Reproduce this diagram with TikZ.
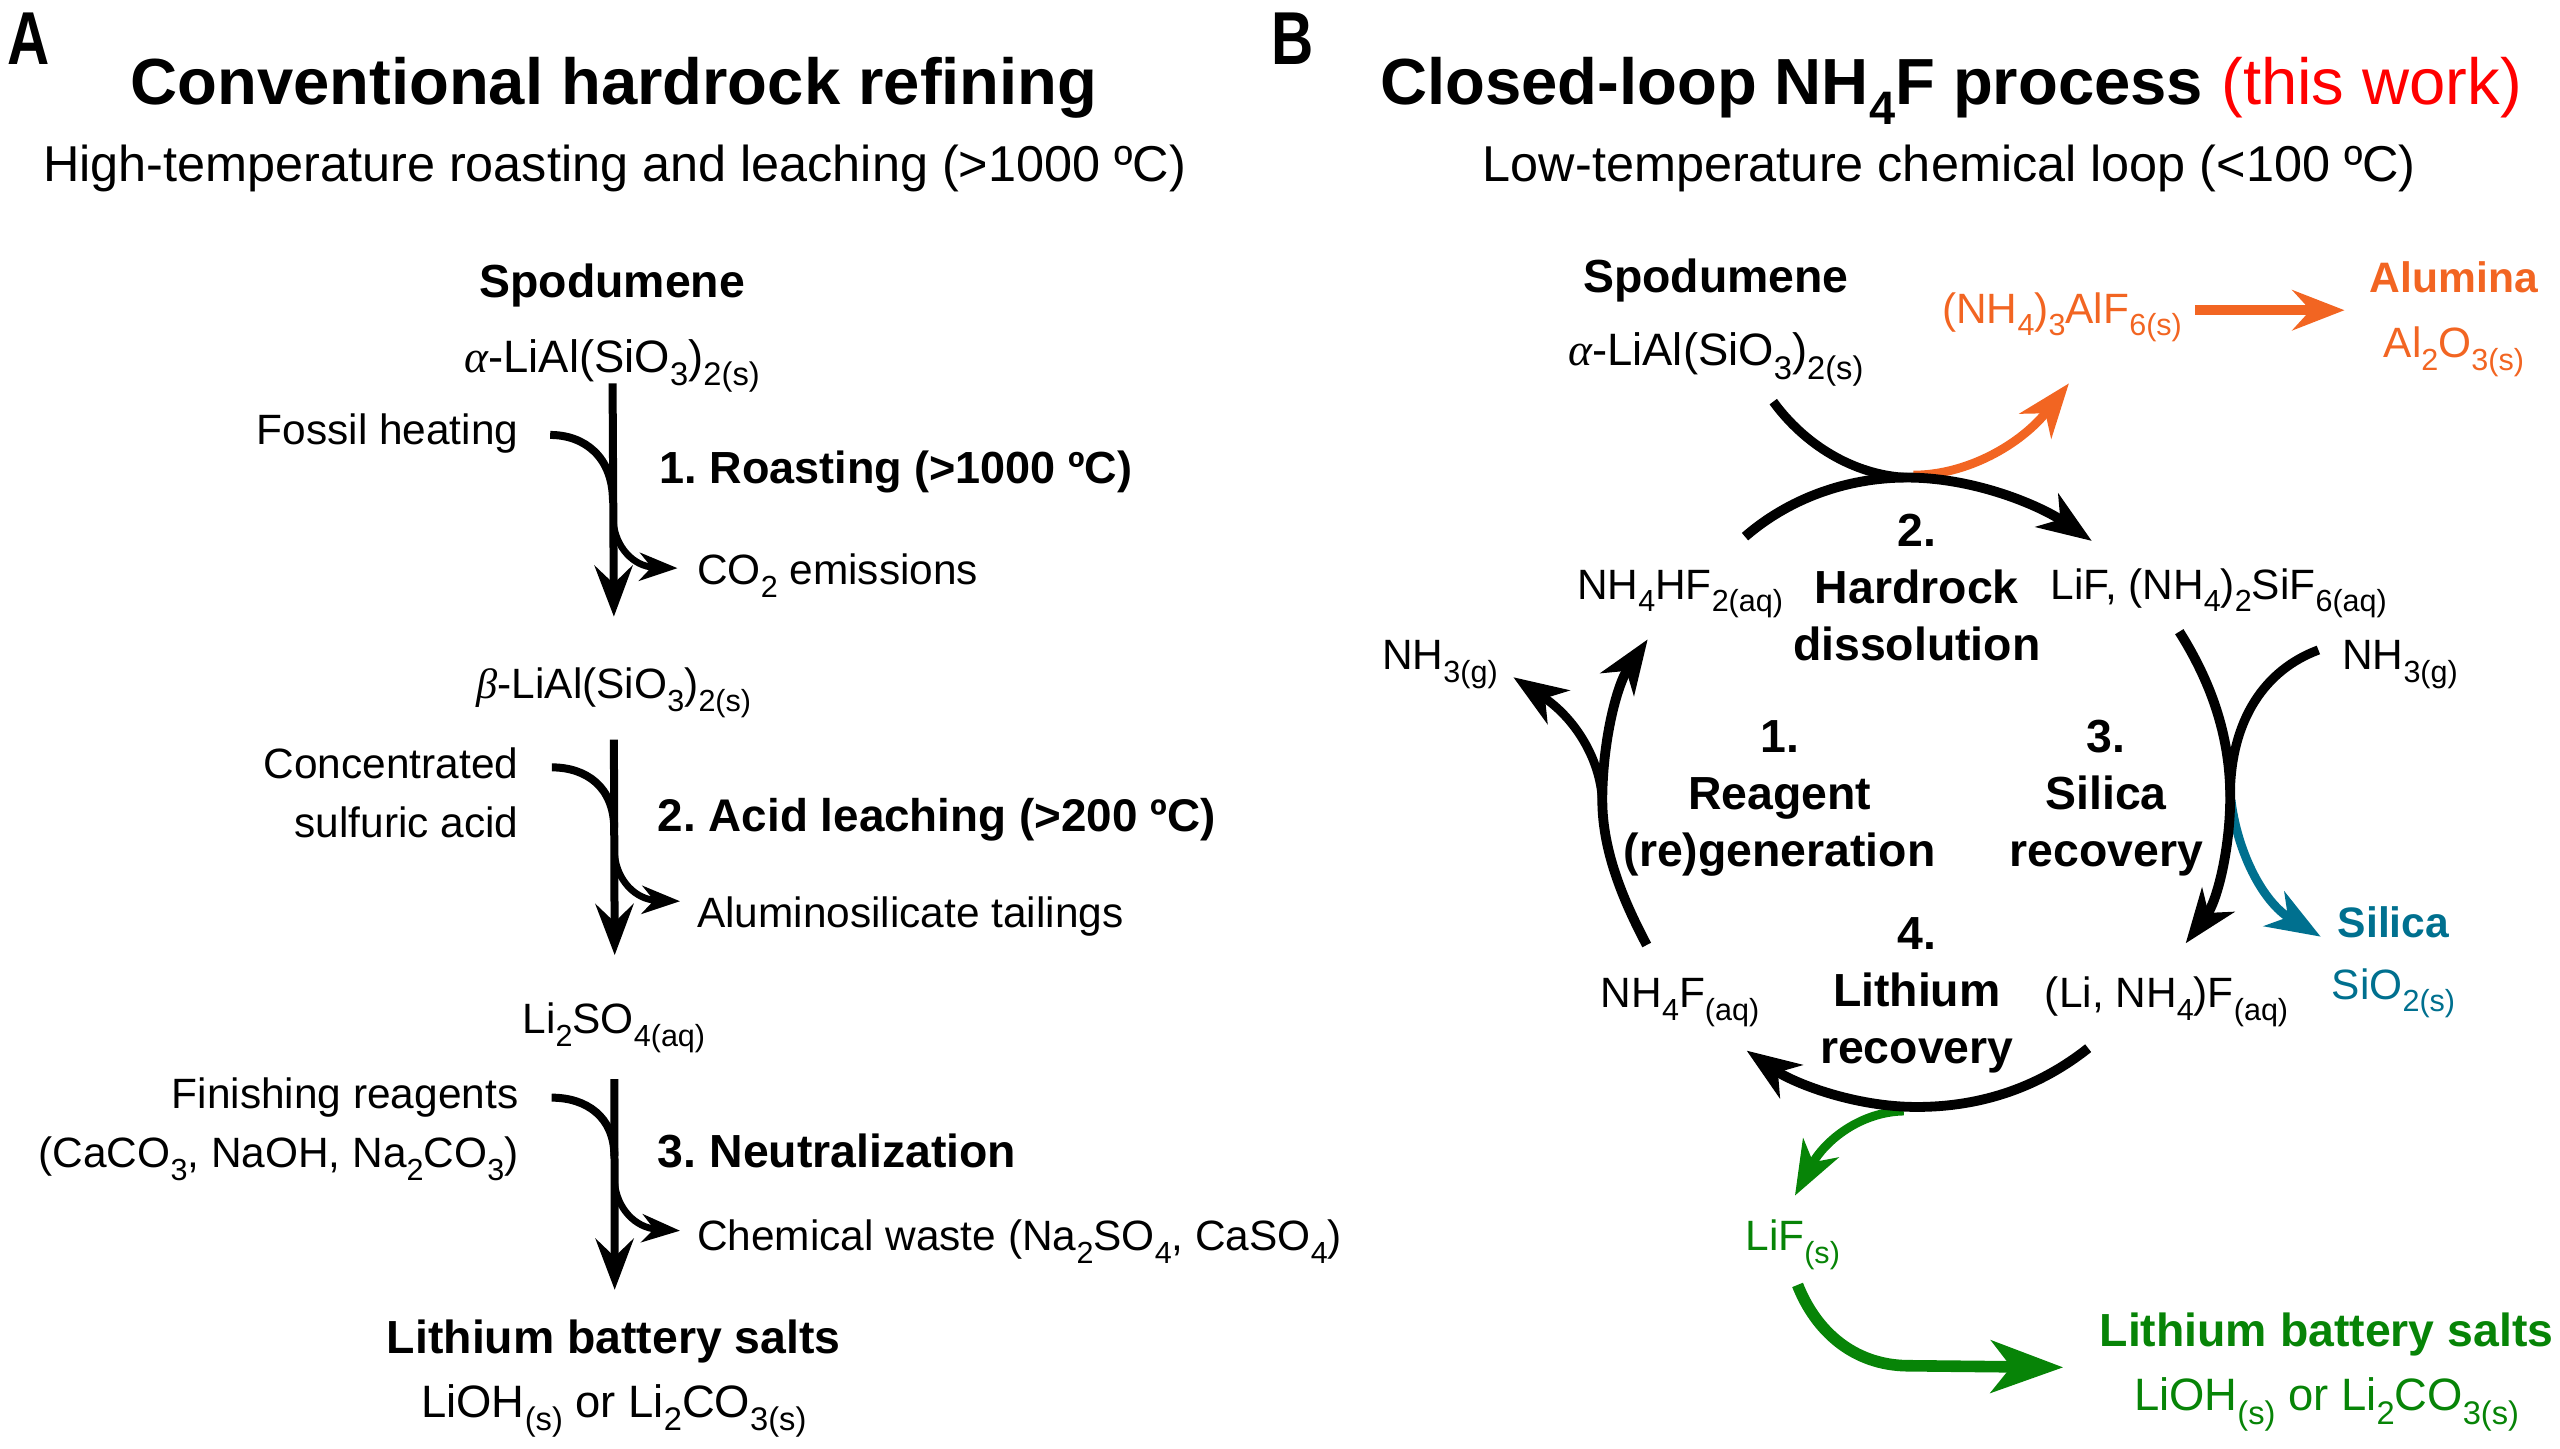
\documentclass[tikz,border=0pt]{standalone}
\usepackage{fontspec}
\setmainfont{Liberation Sans}
\newfontfamily\grk{Liberation Serif}
\usetikzlibrary{arrows.meta}
\definecolor{orng}{HTML}{F26522}
\definecolor{teal2}{HTML}{00708F}
\definecolor{grn}{HTML}{078407}
\newcommand\chs[1]{\raisebox{-0.3em}{\scalebox{0.72}{#1}}}
\newcommand\al{{\grk\itshape α}}
\newcommand\be{{\grk\itshape β}}
\frenchspacing
\tikzset{
  inner sep=0pt, outer sep=0pt,
  paneltag/.style={font=\bfseries\fontsize{37.5}{38}\selectfont, anchor=base},
  ttl/.style={font=\bfseries\fontsize{32.6}{36}\selectfont, anchor=base},
  sub/.style={font=\fontsize{25.2}{30}\selectfont, anchor=base},
  lab/.style={font=\fontsize{21.2}{29}\selectfont, anchor=base},
  labbig/.style={font=\fontsize{22.7}{29}\selectfont, anchor=base},
  labl/.style={lab, anchor=base west},
  labr/.style={lab, anchor=base east},
  bld/.style={font=\bfseries\fontsize{23.2}{29}\selectfont, anchor=base},
  bldsm/.style={font=\bfseries\fontsize{21.3}{29}\selectfont, anchor=base},
  bldl/.style={bld, anchor=base west},
  stp/.style={font=\bfseries\fontsize{23.2}{28.6}\selectfont, align=center, anchor=center},
  vmain/.style={line width=4pt, -{Stealth[length=25.5pt,width=19pt,inset=9pt]}},
  vin/.style={line width=4pt},
  vout/.style={line width=3.4pt, -{Stealth[length=19pt,width=14pt,inset=6pt]}},
  cyc/.style={line width=4.9pt, -{Stealth[length=27pt,width=20pt,inset=8pt]}},
  cycn/.style={line width=4.6pt},
  side/.style={line width=4.4pt, -{Stealth[length=27pt,width=20pt,inset=8pt]}},
  prodg/.style={line width=5.8pt, -{Stealth[length=36pt,width=26pt,inset=10pt]}},
  prodo/.style={line width=5pt, -{Stealth[length=26pt,width=20pt,inset=9pt]}},
}
\begin{document}
\begin{tikzpicture}[x=0.81633pt,y=-0.81633pt]
\useasboundingbox (0,0) rectangle (1568,886.9);
% ---------- Panel A text
\node[paneltag] (tagA) at (17.3,39.4) {\scalebox{0.78}[1]{A}};
\node[ttl] (titleA) at (376,64) {Conventional hardrock refining};
\node[sub] (subA) at (376.5,111) {High-temperature roasting and leaching (>1000 ºC)};
\node[bld] (spA) at (375,182) {Spodumene};
\node[labbig] (alA) at (375,228) {\al-LiAl(SiO\chs{3})\chs{2(s)}};
\node[labr] (fossil) at (317.5,272) {Fossil heating};
\node[bldl,font=\bfseries\fontsize{22.5}{29}\selectfont] (s1A) at (404,296) {1. Roasting (>1000 ºC)};
\node[labl] (co2) at (427,358) {CO\chs{2} emissions};
\node[lab] (beA) at (376,428) {\be-LiAl(SiO\chs{3})\chs{2(s)}};
\node[labr] (conc) at (317.5,477) {Concentrated};
\node[labr] (sulf) at (317.5,513) {sulfuric acid};
\node[bldl,font=\bfseries\fontsize{22.9}{29}\selectfont] (s2A) at (403,509) {2. Acid leaching (>200 ºC)};
\node[labl] (tail) at (427,568) {Aluminosilicate tailings};
\node[lab] (li2so4) at (376,633) {Li\chs{2}SO\chs{4(aq)}};
\node[labr] (fin) at (317.5,679) {Finishing reagents};
\node[labr] (caco) at (317.5,715) {(CaCO\chs{3}, NaOH, Na\chs{2}CO\chs{3})};
\node[bldl] (s3A) at (403,715) {3. Neutralization};
\node[labl] (waste) at (427,766) {Chemical waste (Na\chs{2}SO\chs{4}, CaSO\chs{4})};
\node[bld] (libA) at (376,829) {Lithium battery salts};
\node[labbig] (liohA) at (376,868) {LiOH\chs{(s)} or Li\chs{2}CO\chs{3(s)}};
% ---------- Panel A connectors
\coordinate (a1s) at (375.2,234.8); \coordinate (a1e) at (376,377.7);
\coordinate (a1i) at (337,266.4); \coordinate (a1o) at (415,348);
\draw[vmain] (a1s) -- (a1e);
\draw[vin] (a1i) .. controls (358,266.4) and (375.2,280) .. (375.4,306);
\draw[vout] (375.7,320) .. controls (377,335) and (388,347) .. (a1o);
\coordinate (a2s) at (376,453); \coordinate (a2e) at (376.5,585);
\coordinate (a2i) at (338,470); \coordinate (a2o) at (416.5,552);
\draw[vmain] (a2s) -- (a2e);
\draw[vin] (a2i) .. controls (359,470) and (376,482) .. (376.2,507);
\draw[vout] (376.5,524) .. controls (378,539) and (389,551) .. (a2o);
\coordinate (a3s) at (376.3,661); \coordinate (a3e) at (376.5,790);
\coordinate (a3i) at (337.9,672.3); \coordinate (a3o) at (416.5,753.8);
\draw[vmain] (a3s) -- (a3e);
\draw[vin] (a3i) .. controls (359,672.3) and (376.3,684) .. (376.3,708);
\draw[vout] (376.5,725) .. controls (378,740) and (389,752) .. (a3o);
% ---------- Panel B text
\node[paneltag] (tagB) at (792,39.4) {\scalebox{0.78}[1]{B}};
\node[ttl] (titleB) at (1195,64) {Closed-loop NH\chs{4}F process {\mdseries\color{red}(this work)}};
\node[sub] (subB) at (1194,111) {Low-temperature chemical loop (<100 ºC)};
\node[bld] (spB) at (1051,179) {Spodumene};
\node[labbig] (alB) at (1051,224) {\al-LiAl(SiO\chs{3})\chs{2(s)}};
\node[lab,text=orng] (nh4alf) at (1263,198) {(NH\chs{4})\chs{3}AlF\chs{6(s)}};
\node[bldsm,text=orng] (alum) at (1503,179) {Alumina};
\node[lab,text=orng] (al2o3) at (1503,219) {Al\chs{2}O\chs{3(s)}};
\node[lab] (nh4hf2) at (1029,367) {NH\chs{4}HF\chs{2(aq)}};
\node[lab] (lifsi) at (1359,367) {LiF, (NH\chs{4})\chs{2}SiF\chs{6(aq)}};
\node[lab] (nh3l) at (882,410) {NH\chs{3(g)}};
\node[lab] (nh3r) at (1470,410) {NH\chs{3(g)}};
\node[lab] (nh4f) at (1029,617) {NH\chs{4}F\chs{(aq)}};
\node[lab] (linh4f) at (1327,617) {(Li, NH\chs{4})F\chs{(aq)}};
\node[bldsm,text=teal2] (silica) at (1466,574) {Silica};
\node[lab,text=teal2] (sio2) at (1466,612) {SiO\chs{2(s)}};
\node[lab,text=grn] (lif) at (1098,766) {LiF\chs{(s)}};
\node[bld,text=grn] (libB) at (1425,825) {Lithium battery salts};
\node[labbig,text=grn] (liohB) at (1425,864) {LiOH\chs{(s)} or Li\chs{2}CO\chs{3(s)}};
\node[stp] (st2) at (1174,360) {2.\\Hardrock\\dissolution};
\node[stp] (st1) at (1090,489) {1.\\Reagent\\(re)generation};
\node[stp] (st3) at (1290,489) {3.\\Silica\\recovery};
\node[stp] (st4) at (1174,609.5) {4.\\Lithium\\recovery};
% ---------- Panel B connectors
\coordinate (b2a) at (1068.8,328.7); \coordinate (b2t) at (1281.2,331.3);
\coordinate (b2s) at (1086.1,246); \coordinate (b2m) at (1168,292.5);
\coordinate (b2o) at (1267.2,234.8);
\draw[side,color=orng] (1172,291) .. controls (1205,291) and (1238,272) .. (b2o);
\draw[cycn] (b2s) .. controls (1105,272) and (1135,291) .. (b2m);
\draw[cyc] (b2a) .. controls (1095,306) and (1130,292.5) .. (b2m) .. controls (1210,292.5) and (1250,310) .. (b2t);
\coordinate (b3a) at (1334.8,386.9); \coordinate (b3t) at (1338.7,577.8);
\coordinate (b3n) at (1420,398.1); \coordinate (b3m) at (1366,488);
\coordinate (b3o) at (1421.4,573.7);
\draw[side,color=teal2] (1366.5,490) .. controls (1370,520) and (1385,552) .. (b3o);
\draw[cycn] (b3n) .. controls (1388,410) and (1366,440) .. (b3m);
\draw[cyc] (b3a) .. controls (1350,411) and (1366,445) .. (b3m) .. controls (1366,520) and (1358,552) .. (b3t);
\coordinate (b1a) at (1008.6,578.8); \coordinate (b1t) at (1009.2,391.6);
\coordinate (b1n) at (926.9,414.8); \coordinate (b1m) at (981.4,490);
\draw[side] (b1m) .. controls (980,465) and (965,440) .. (b1n);
\draw[cyc] (b1a) .. controls (995,553) and (981.4,522) .. (b1m) .. controls (981.4,455) and (990,420) .. (b1t);
\coordinate (b4a) at (1279,642); \coordinate (b4t) at (1069.8,643.5);
\coordinate (b4m) at (1174,678); \coordinate (b4g) at (1099.4,732.3);
\draw[side,color=grn] (1166,680.5) .. controls (1140,681) and (1118,698) .. (b4g);
\draw[cyc] (b4a) .. controls (1250,665) and (1215,678) .. (b4m) .. controls (1135,678) and (1098,663) .. (b4t);
\coordinate (g2s) at (1101,787); \coordinate (g2c) at (1168,836.5); \coordinate (g2t) at (1263.7,837.5);
\draw[prodg,color=grn] (g2s) .. controls (1112,815) and (1135,836) .. (g2c) -- (g2t);
\coordinate (o2s) at (1344.5,190); \coordinate (o2t) at (1436,190);
\draw[prodo,color=orng] (o2s) -- (o2t);
\end{tikzpicture}
\end{document}
